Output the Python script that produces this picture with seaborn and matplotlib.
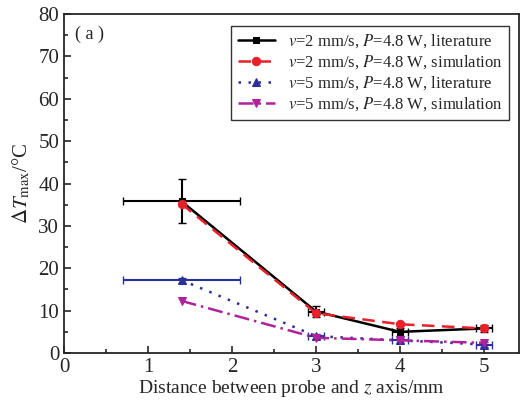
import numpy as np
import pandas as pd
import matplotlib
matplotlib.use("Agg")
import matplotlib.pyplot as plt
import seaborn as sns
from matplotlib.ticker import MultipleLocator

# data
distance = [1.4, 3, 4, 5]
lit_v2 = [35.8, 9.8, 5.0, 5.8]
sim_v2 = [35.2, 9.4, 6.8, 5.8]
lit_v5 = [17.2, 4.0, 3.0, 2.0]
sim_v5 = [12.3, 3.6, 3.0, 2.4]
lit_v2_xerr = [0.7, 0.1, 0.1, 0.1]
lit_v2_yerr = [5.2, 1.2, 1.0, 0.8]
lit_v5_xerr = [0.7, 0.1, 0.1, 0.1]
lit_v5_yerr = [0.6, 0.6, 0.6, 0.6]

labels = [r"$v$=2 mm/s, $P$=4.8 W, literature",
          r"$v$=2 mm/s, $P$=4.8 W, simulation",
          r"$v$=5 mm/s, $P$=4.8 W, literature",
          r"$v$=5 mm/s, $P$=4.8 W, simulation"]

sns.set_style("ticks")
plt.rcParams['font.family'] = ['Liberation Serif', 'DejaVu Serif']
plt.rcParams['mathtext.fontset'] = 'stix'

fig = plt.figure(figsize=(5.22, 4.03), dpi=100)
ax = fig.add_axes([0.1226, 0.124, 0.872, 0.841])

series = [
    (lit_v2, labels[0], 'black', '-', 's', 5),
    (sim_v2, labels[1], '#e8202a', (0, (5, 3)), 'o', 6),
    (lit_v5, labels[2], '#2b2f9a', (0, (1, 3)), '^', 6),
    (sim_v5, labels[3], '#b0229a', (0, (6, 2, 1, 2)), 'v', 6),
]

# error bars for literature values
ax.errorbar(distance, lit_v2, xerr=lit_v2_xerr, yerr=lit_v2_yerr, fmt='none',
            ecolor='black', elinewidth=1.5, capsize=3, zorder=3)
ax.errorbar(distance, lit_v5, xerr=lit_v5_xerr, yerr=lit_v5_yerr, fmt='none',
            ecolor='#2b2f9a', elinewidth=1.5, capsize=3, zorder=3)

for vals, lab, col, ls, mk, ms in series:
    df = pd.DataFrame({'x': distance, 'y': vals})
    sns.lineplot(data=df, x='x', y='y', ax=ax, color=col, linestyle=ls,
                 marker=mk, markersize=ms, markeredgecolor=col, linewidth=1.8,
                 label=lab, zorder=4)

ax.set_xlim(0, 5.42)
ax.set_ylim(0, 80)
ax.xaxis.set_major_locator(MultipleLocator(1))
ax.xaxis.set_minor_locator(MultipleLocator(0.5))
ax.yaxis.set_major_locator(MultipleLocator(10))
ax.yaxis.set_minor_locator(MultipleLocator(5))
ax.tick_params(which='both', direction='in', labelsize=15, width=1.2)
ax.tick_params(which='major', length=5)
ax.tick_params(which='minor', length=3)
for s in ax.spines.values():
    s.set_linewidth(1.3)

ax.set_xlabel(r"Distance between probe and $z$ axis/mm", fontsize=14, labelpad=1)
ax.set_ylabel(r"$\Delta T_{\rm max}$/°C", fontsize=15, labelpad=4)
ax.text(0.025, 0.965, "( a )", transform=ax.transAxes, fontsize=13, va='top')

leg = ax.legend(loc='upper right', fontsize=12, frameon=True, fancybox=False,
                edgecolor='black', handlelength=2.2, borderpad=0.4,
                labelspacing=0.2, bbox_to_anchor=(0.997, 0.99))
leg.get_frame().set_linewidth(1.0)

fig.savefig("out.png", dpi=100)
